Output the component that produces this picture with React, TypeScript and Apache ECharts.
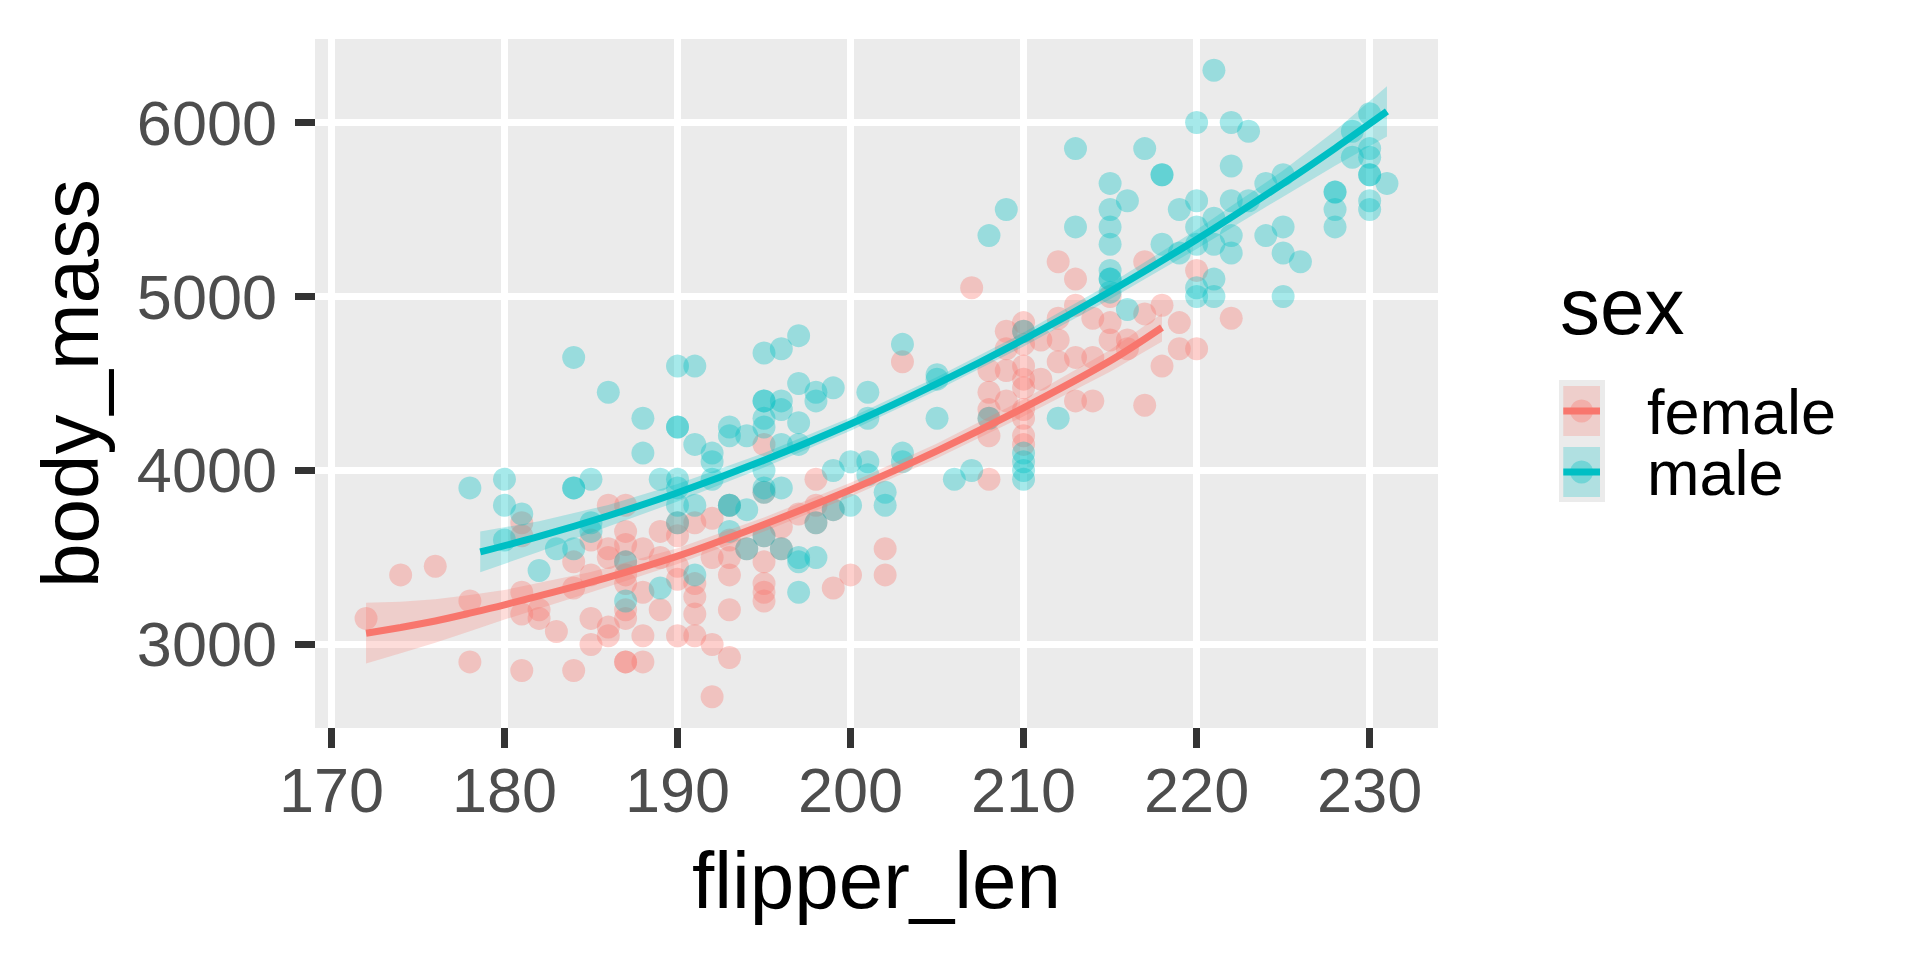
import React, { useEffect, useRef } from "react";
import * as echarts from "echarts";

const FEMALE = "#F8766D";
const MALE = "#00BFC4";
const FONT = "'Liberation Sans', Arial, sans-serif";

const xTicks = [170, 180, 190, 200, 210, 220, 230];
const yTicks = [3000, 4000, 5000, 6000];
const xRange = [169.05, 233.95];
const yRange = [2520, 6480];

const femaleFlipper = [
  172, 174, 176, 178, 178,
  181, 181, 181, 181, 181, 182, 182, 183, 184, 184, 184,
  185, 185, 185, 185, 186, 186, 186, 186, 186,
  187, 187, 187, 187, 187, 187, 187, 187, 187, 187,
  188, 188, 188, 188, 189, 189, 189,
  190, 190, 190, 190, 190, 191, 191, 191, 191, 191,
  192, 192, 192, 192, 193, 193, 193, 193, 193, 193, 194,
  195, 195, 195, 195, 195, 195, 195, 196, 196, 197, 198, 198, 198, 199, 199, 200, 202, 202, 203,
  207, 208, 208, 208, 208, 208, 208, 209, 209, 209, 209,
  210, 210, 210, 210, 210, 210, 210, 210, 210, 210, 211, 211,
  212, 212, 212, 212, 213, 213, 213, 213, 214, 214, 214,
  215, 215, 215, 216, 216, 217, 217, 217, 218, 218, 219, 219, 220, 220, 222,
];
const femaleMass = [
  3150, 3400, 3450, 3250, 2900,
  2850, 3300, 3175, 3700, 3625, 3200, 3150, 3075, 2850, 3475, 3325,
  3150, 3000, 3600, 3400, 3800, 3550, 3500, 3100, 3050,
  3800, 3650, 3575, 3475, 3400, 3350, 3200, 3150, 2900, 2900,
  3550, 3300, 3050, 2900, 3650, 3500, 3200,
  3700, 3625, 3450, 3375, 3050, 3700, 3350, 3275, 3175, 3050,
  3725, 3500, 3000, 2700, 3800, 3600, 3500, 3400, 3200, 2925, 3550,
  4150, 3875, 3625, 3475, 3350, 3300, 3250, 3675, 3550, 3750, 3950, 3800, 3700, 3775, 3325, 3400, 3550, 3400, 4625,
  5050, 4575, 4450, 4350, 4300, 4200, 3950, 4800, 4700, 4575, 4400,
  4850, 4800, 4725, 4600, 4525, 4475, 4350, 4300, 4200, 4150, 4750, 4525,
  5200, 4875, 4750, 4625, 5100, 4950, 4650, 4400, 4875, 4650, 4400,
  5000, 4850, 4750, 4750, 4700, 5200, 4900, 4375, 4950, 4600, 4850, 4700, 5150, 4700, 4875,
];

const maleFlipper = [
  178, 180, 180, 180, 181, 182, 183, 184, 184, 184, 184,
  185, 185, 185, 186, 187, 187, 188, 188, 189, 189,
  190, 190, 190, 190, 190, 190, 190, 191, 191, 191, 191,
  192, 192, 192, 193, 193, 193, 193, 193, 194, 194, 194,
  195, 195, 195, 195, 195, 195, 195, 195, 195,
  196, 196, 196, 196, 196, 196, 197, 197, 197, 197, 197, 197, 197,
  198, 198, 198, 198, 199, 199, 199, 200, 200, 201, 201, 201, 201, 202, 202, 203, 203, 203,
  205, 205, 205, 206, 207, 208, 208, 209, 210, 210, 210, 210, 210, 212, 213, 213,
  215, 215, 215, 215, 215, 215, 215, 215, 216, 216, 217, 218, 218, 218, 219, 219,
  220, 220, 220, 220, 220, 220, 221, 221, 221, 221, 221, 222, 222, 222, 222, 222,
  223, 223, 224, 224, 225, 225, 225, 225, 226, 228, 228, 228, 228, 229, 229,
  230, 230, 230, 230, 230, 230, 230, 231,
];
const maleMass = [
  3900, 3950, 3800, 3600, 3750, 3425, 3550, 4650, 3900, 3900, 3550,
  3950, 3700, 3650, 4450, 3475, 3250, 4300, 4100, 3950, 3325,
  4600, 4250, 4250, 3950, 3900, 3800, 3700, 4600, 4150, 3800, 3400,
  4100, 4050, 3950, 4250, 4200, 3800, 3800, 3650, 4200, 3775, 3550,
  4675, 4400, 4400, 4300, 4250, 4000, 3900, 3875, 3625,
  4700, 4400, 4350, 4150, 3900, 3550, 4775, 4500, 4275, 4150, 3500, 3475, 3300,
  4450, 4400, 3700, 3500, 4475, 4000, 3775, 4050, 3800, 4450, 4300, 4050, 3975, 3875, 3800, 4725, 4100, 4050,
  4550, 4525, 4300, 3950, 4000, 5350, 4300, 5500, 4800, 4100, 4050, 4000, 3950, 4300, 5850, 5400,
  5650, 5500, 5400, 5300, 5150, 5100, 5100, 5025, 5550, 4925, 5850, 5700, 5700, 5300, 5500, 5250,
  6000, 5550, 5400, 5300, 5050, 5000, 6300, 5450, 5300, 5100, 5000, 6000, 5750, 5550, 5350, 5250,
  5950, 5550, 5650, 5350, 5700, 5400, 5250, 5000, 5200, 5600, 5600, 5500, 5400, 5950, 5800,
  6050, 5850, 5800, 5700, 5700, 5550, 5500, 5650,
];

// smoothed fit and half-width of its confidence band
const femaleFitX = [172, 174, 176, 178, 180, 185, 190, 195, 200, 205, 210, 215, 218];
const femaleFitY = [3065, 3098, 3135, 3180, 3228, 3358, 3508, 3690, 3889, 4113, 4360, 4630, 4822];
const femaleFitSE = [175, 148, 125, 104, 85, 58, 45, 40, 40, 42, 48, 62, 80];

const maleFitX = [178.6, 182, 186, 190, 195, 200, 205, 210, 215, 220, 225, 228, 231];
const maleFitY = [3532, 3621, 3740, 3872, 4059, 4267, 4499, 4753, 5029, 5328, 5649, 5852, 6064];
const maleFitSE = [117, 88, 62, 50, 42, 38, 38, 40, 45, 55, 75, 100, 145];

const legendLabels = ["female", "male"];
const legendColors = [FEMALE, MALE];

function zip(a: number[], b: number[]) {
  const n = Math.min(a.length, b.length);
  const out: number[][] = [];
  for (let i = 0; i < n; i++) out.push([a[i], b[i]]);
  return out;
}

function bandSeries(name: string, xs: number[], ys: number[], se: number[], color: string) {
  const upper = xs.map((x, i) => [x, ys[i] + se[i]]);
  const lower = xs.map((x, i) => [x, ys[i] - se[i]]);
  return {
    name: name + "-band",
    type: "custom",
    data: [[xs[0], ys[0]]],
    silent: true,
    clip: true,
    z: 3,
    renderItem: (params: any, api: any) => {
      if (params.dataIndex !== 0) return null;
      const pts = upper.map((p) => api.coord(p)).concat(lower.slice().reverse().map((p) => api.coord(p)));
      return {
        type: "polygon",
        shape: { points: pts },
        style: { fill: color, opacity: 0.25 },
      };
    },
  };
}

function fitLine(name: string, xs: number[], ys: number[], color: string) {
  return {
    name: name + "-fit",
    type: "line",
    data: xs.map((x, i) => [x, ys[i]]),
    smooth: 0.3,
    symbol: "none",
    lineStyle: { color, width: 7 },
    silent: true,
    z: 4,
  };
}

function scatter(name: string, xs: number[], ys: number[], color: string) {
  return {
    name,
    type: "scatter",
    data: zip(xs, ys),
    symbolSize: 23,
    itemStyle: { color, opacity: 0.35 },
    silent: true,
    z: 2,
  };
}

function legendGraphic() {
  const els: any[] = [
    {
      type: "text",
      x: 1560,
      y: 306,
      style: { text: "sex", fontSize: 80, fontFamily: FONT, fill: "#000000", align: "left", verticalAlign: "middle" },
    },
    { type: "rect", shape: { x: 1559, y: 380, width: 46, height: 122 }, style: { fill: "#EBEBEB" } },
  ];
  legendLabels.forEach((label, i) => {
    const cy = 411 + i * 61;
    const color = legendColors[i];
    els.push(
      { type: "rect", shape: { x: 1563.3, y: cy - 25, width: 36.7, height: 50 }, style: { fill: color, opacity: 0.25 } },
      { type: "circle", shape: { cx: 1581.6, cy, r: 11.5 }, style: { fill: color, opacity: 0.35 } },
      { type: "line", shape: { x1: 1563.3, y1: cy, x2: 1600, y2: cy }, style: { stroke: color, lineWidth: 7 } },
      {
        type: "text",
        x: 1647,
        y: cy + 1,
        style: {
          text: label,
          fontSize: 63,
          lineHeight: 56,
          fontFamily: FONT,
          fill: "#000000",
          align: "left",
          verticalAlign: "middle",
        },
      }
    );
  });
  return els;
}

export default function App() {
  const ref = useRef<HTMLDivElement>(null);
  useEffect(() => {
    if (!ref.current) return;
    const chart = echarts.init(ref.current, null, { renderer: "svg" });
    const option: any = {
      animation: false,
      backgroundColor: "#FFFFFF",
      grid: {
        left: 315,
        top: 39,
        width: 1123,
        height: 689,
        show: true,
        backgroundColor: "#EBEBEB",
        borderWidth: 0,
        containLabel: false,
      },
      xAxis: {
        type: "value",
        min: xRange[0],
        max: xRange[1],
        name: "flipper_len",
        nameLocation: "middle",
        nameGap: 112,
        nameTextStyle: { fontSize: 80, fontFamily: FONT, color: "#000000" },
        axisLine: { show: false },
        axisTick: { show: true, customValues: xTicks, length: 20, lineStyle: { color: "#333333", width: 7 } },
        axisLabel: {
          customValues: xTicks,
          fontSize: 63,
          fontFamily: FONT,
          color: "#4D4D4D",
          margin: 30,
          formatter: (v: number) => String(v),
        },
        splitLine: { show: true, lineStyle: { color: "#FFFFFF", width: 7 } },
      },
      yAxis: {
        type: "value",
        min: yRange[0],
        max: yRange[1],
        name: "body_mass",
        nameLocation: "middle",
        nameGap: 205,
        nameRotate: 90,
        nameTextStyle: { fontSize: 80, fontFamily: FONT, color: "#000000" },
        axisLine: { show: false },
        axisTick: { show: true, customValues: yTicks, length: 20, lineStyle: { color: "#333333", width: 7 } },
        axisLabel: {
          customValues: yTicks,
          fontSize: 63,
          fontFamily: FONT,
          color: "#4D4D4D",
          margin: 38,
          formatter: (v: number) => String(v),
        },
        splitLine: { show: true, lineStyle: { color: "#FFFFFF", width: 7 } },
      },
      series: [
        scatter("female", femaleFlipper, femaleMass, FEMALE),
        scatter("male", maleFlipper, maleMass, MALE),
        bandSeries("female", femaleFitX, femaleFitY, femaleFitSE, FEMALE),
        fitLine("female", femaleFitX, femaleFitY, FEMALE),
        bandSeries("male", maleFitX, maleFitY, maleFitSE, MALE),
        fitLine("male", maleFitX, maleFitY, MALE),
      ],
      graphic: legendGraphic(),
    };
    chart.setOption(option);
    return () => chart.dispose();
  }, []);
  return (
    <div
      ref={ref}
      style={{ position: "absolute", left: 0, top: 0, width: 1920, height: 960, background: "#FFFFFF" }}
    />
  );
}
